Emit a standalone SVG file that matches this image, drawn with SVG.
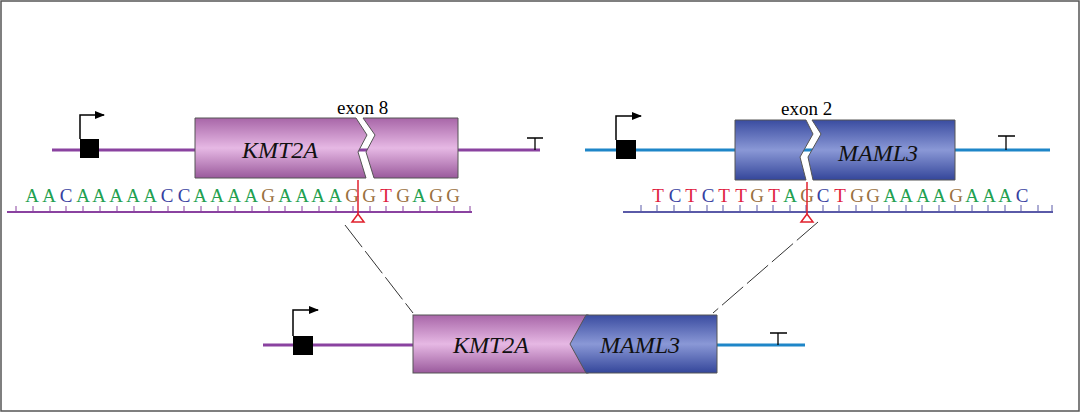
<svg xmlns="http://www.w3.org/2000/svg" width="1080" height="412" viewBox="0 0 1080 412">
<defs>
<linearGradient id="gp" x1="0" y1="0" x2="0" y2="1"><stop offset="0" stop-color="#a866a8"/><stop offset="0.5" stop-color="#e6b8e4"/><stop offset="1" stop-color="#9a5a9c"/></linearGradient>
<linearGradient id="gb" x1="0" y1="0" x2="0" y2="1"><stop offset="0" stop-color="#3a4ca0"/><stop offset="0.5" stop-color="#8a98d6"/><stop offset="1" stop-color="#34469a"/></linearGradient>
<marker id="ah" viewBox="0 0 10 10" refX="9" refY="5" markerWidth="7" markerHeight="7" orient="auto"><path d="M0,1 L10,5 L0,9 z" fill="#000"/></marker>
</defs>
<style>
.box{stroke:#555;stroke-width:1}
.pl{stroke:#8a42a0;stroke-width:3;fill:none}
.bl{stroke:#1e86c8;stroke-width:3;fill:none}
.gene{font-family:"Liberation Serif",serif;font-style:italic;font-size:24px;fill:#111}
.lbl{font-family:"Liberation Serif",serif;font-size:19px;fill:#000}
.seq{font-family:"Liberation Serif",serif;font-size:19px;text-anchor:middle}
.A{fill:#22a050}.C{fill:#3640a0}.G{fill:#9a7040}.T{fill:#e02040}
.arr{stroke:#000;stroke-width:1.5;fill:none}
.dash{stroke:#333;stroke-width:1;stroke-dasharray:28 5;fill:none}
.red{stroke:#e0202c;stroke-width:1.5;fill:none}
</style>
<rect x="1" y="1" width="1078" height="410" fill="#fff" stroke="#555" stroke-width="1.5"/>
<g id="kmt2a-gene">
<line class="pl" x1="52" y1="150" x2="540" y2="150"/>
<rect x="80" y="139" width="19" height="19" fill="#000"/>
<path class="arr" d="M80,139 V115 H104" marker-end="url(#ah)"/>
<path d="M535,150 V138 M527,138 H543" stroke="#000" stroke-width="1.3"/>
<polygon class="box" fill="url(#gp)" points="195,118 356,118 367,135 358,152 366,178 195,178"/>
<polygon class="box" fill="url(#gp)" points="363,118 458,118 458,178 374,178 366,152 375,135"/>
<text class="gene" x="242" y="158">KMT2A</text>
<text class="lbl" x="337" y="114">exon 8</text>
</g>
<g id="kmt2a-seq">
<line stroke="#8a42a0" stroke-width="2" x1="7" y1="212" x2="472" y2="212"/>
<path stroke="#8a42a0" stroke-width="1" d="M16,212v-6M33,212v-6M50,212v-6M66,212v-6M83,212v-6M100,212v-6M117,212v-6M134,212v-6M151,212v-6M168,212v-6M184,212v-6M201,212v-6M218,212v-6M235,212v-6M252,212v-6M269,212v-6M285,212v-6M302,212v-6M319,212v-6M336,212v-6M353,212v-6M370,212v-6M386,212v-6M403,212v-6M420,212v-6M437,212v-6M454,212v-6M470,212v-6"/>
<text class="seq" y="202"><tspan class="A" x="32">A</tspan><tspan class="A" x="49">A</tspan><tspan class="C" x="66">C</tspan><tspan class="A" x="83">A</tspan><tspan class="A" x="99">A</tspan><tspan class="A" x="116">A</tspan><tspan class="A" x="133">A</tspan><tspan class="A" x="150">A</tspan><tspan class="C" x="167">C</tspan><tspan class="C" x="184">C</tspan><tspan class="A" x="200">A</tspan><tspan class="A" x="217">A</tspan><tspan class="A" x="234">A</tspan><tspan class="A" x="251">A</tspan><tspan class="G" x="268">G</tspan><tspan class="A" x="285">A</tspan><tspan class="A" x="302">A</tspan><tspan class="A" x="318">A</tspan><tspan class="A" x="335">A</tspan><tspan class="G" x="352">G</tspan><tspan class="G" x="369">G</tspan><tspan class="T" x="386">T</tspan><tspan class="G" x="403">G</tspan><tspan class="A" x="419">A</tspan><tspan class="G" x="436">G</tspan><tspan class="G" x="453">G</tspan></text>
<line class="red" x1="358" y1="180" x2="358" y2="214"/>
<polygon class="red" points="358,214 352,222 364,222"/>
</g>
<g id="maml3-gene">
<line class="bl" x1="585" y1="150" x2="1050" y2="150"/>
<rect x="616" y="140" width="20" height="19" fill="#000"/>
<path class="arr" d="M616,140 V116 H641" marker-end="url(#ah)"/>
<path d="M1006,150 V136 M998,136 H1015" stroke="#000" stroke-width="1.3"/>
<polygon class="box" fill="url(#gb)" points="735,120 806,120 813,134 800,157 806,180 735,180"/>
<polygon class="box" fill="url(#gb)" points="812,120 955,120 955,180 813,180 808,157 821,134"/>
<text class="gene" x="838" y="161">MAML3</text>
<text class="lbl" x="781" y="115">exon 2</text>
</g>
<g id="maml3-seq">
<line stroke="#5a5aa8" stroke-width="2" x1="623" y1="212" x2="1053" y2="212"/>
<path stroke="#5a5aa8" stroke-width="1" d="M641,212v-7M657,212v-7M674,212v-7M690,212v-7M707,212v-7M723,212v-7M740,212v-7M757,212v-7M773,212v-7M790,212v-7M806,212v-7M823,212v-7M839,212v-7M856,212v-7M872,212v-7M889,212v-7M906,212v-7M922,212v-7M939,212v-7M955,212v-7M972,212v-7M988,212v-7M1005,212v-7M1021,212v-7M1038,212v-7M1052,212v-7"/>
<text class="seq" y="202"><tspan class="T" x="658">T</tspan><tspan class="C" x="675">C</tspan><tspan class="T" x="691">T</tspan><tspan class="C" x="708">C</tspan><tspan class="T" x="724">T</tspan><tspan class="T" x="741">T</tspan><tspan class="G" x="757">G</tspan><tspan class="T" x="774">T</tspan><tspan class="A" x="790">A</tspan><tspan class="G" x="807">G</tspan><tspan class="C" x="823">C</tspan><tspan class="T" x="840">T</tspan><tspan class="G" x="857">G</tspan><tspan class="G" x="873">G</tspan><tspan class="A" x="890">A</tspan><tspan class="A" x="906">A</tspan><tspan class="A" x="923">A</tspan><tspan class="A" x="939">A</tspan><tspan class="G" x="956">G</tspan><tspan class="A" x="972">A</tspan><tspan class="A" x="989">A</tspan><tspan class="A" x="1005">A</tspan><tspan class="C" x="1022">C</tspan></text>
<line class="red" x1="807" y1="182" x2="807" y2="214"/>
<polygon class="red" points="807,214 801,222 813,222"/>
</g>
<g id="connectors">
<line class="dash" x1="345" y1="225" x2="413" y2="313"/>
<line class="dash" x1="818" y1="222" x2="713" y2="313"/>
</g>
<g id="fusion-gene">
<line class="pl" x1="263" y1="345" x2="413" y2="345"/>
<line class="bl" x1="717" y1="345" x2="805" y2="345"/>
<rect x="293" y="336" width="20" height="19" fill="#000"/>
<path class="arr" d="M293,336 V310 H318" marker-end="url(#ah)"/>
<path d="M778,345 V333 M770,333 H787" stroke="#000" stroke-width="1.3"/>
<rect class="box" x="413" y="315" width="175" height="58" fill="url(#gp)"/>
<polygon class="box" fill="url(#gb)" points="586,315 570,344 586,373 717,373 717,315"/>
<text class="gene" x="453" y="353">KMT2A</text>
<text class="gene" x="600" y="353">MAML3</text>
</g>
</svg>
